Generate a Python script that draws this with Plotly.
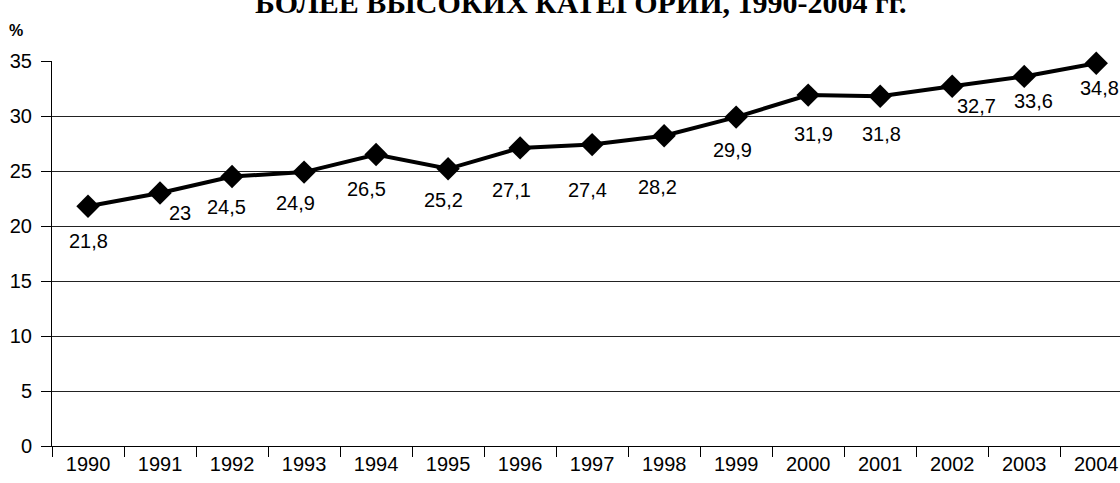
import plotly.graph_objects as go

years = ["1990", "1991", "1992", "1993", "1994", "1995", "1996", "1997",
         "1998", "1999", "2000", "2001", "2002", "2003", "2004"]
values = [21.8, 23, 24.5, 24.9, 26.5, 25.2, 27.1, 27.4, 28.2, 29.9,
          31.9, 31.8, 32.7, 33.6, 34.8]
labels = ["21,8", "23", "24,5", "24,9", "26,5", "25,2", "27,1", "27,4",
          "28,2", "29,9", "31,9", "31,8", "32,7", "33,6", "34,8"]

# label pixel offsets (style only)
dx = [0, 20, -6, -9, -10, -5, -9, -5, -7, -4, 5, 1, 24, 9, 3]
dy = [35, 20, 30, 31, 34, 31, 42, 45, 51, 33, 39, 38, 20, 25, 25]

fig = go.Figure()
fig.add_trace(go.Scatter(
    x=years, y=values, mode="lines+markers",
    line=dict(color="black", width=4),
    marker=dict(symbol="diamond", size=18, color="black"),
    hoverinfo="skip", showlegend=False, cliponaxis=False,
))

for i, (y, t, ox, oy) in enumerate(zip(values, labels, dx, dy)):
    fig.add_annotation(x=i, y=y, text=t, showarrow=False,
                       xshift=ox, yshift=-oy,
                       font=dict(family="Liberation Sans, Arial", size=20, color="black"))

fig.add_annotation(xref="paper", yref="paper", x=(580 - 52) / 1068, y=1,
                   xanchor="center", yanchor="middle", yshift=59,
                   text="<b>БОЛЕЕ ВЫСОКИХ КАТЕГОРИЙ, 1990-2004 гг.</b>",
                   showarrow=False,
                   font=dict(family="Liberation Serif, Times New Roman", size=30, color="black"))
fig.add_annotation(xref="paper", yref="paper", x=(16 - 52) / 1068, y=1,
                   xanchor="center", yanchor="middle", yshift=31,
                   text="<b>%</b>", showarrow=False,
                   font=dict(family="Liberation Sans, Arial", size=16, color="black"))

fig.update_layout(
    width=1120, height=483,
    margin=dict(l=52, r=0, t=61, b=37),
    paper_bgcolor="white", plot_bgcolor="white",
    font=dict(family="Liberation Sans, Arial", size=20, color="black"),
    xaxis=dict(type="category", range=[-0.5, 14.33], tickson="boundaries",
               ticks="outside", ticklen=10, tickcolor="black", tickwidth=1,
               showline=True, linecolor="black", linewidth=1,
               showgrid=False, zeroline=False, tickfont=dict(size=20)),
    yaxis=dict(range=[0, 35], dtick=5, ticks="outside", ticklen=10,
               tickcolor="black", tickwidth=1, ticklabelstandoff=5,
               showline=True, linecolor="black", linewidth=1,
               showgrid=True, gridcolor="#222", gridwidth=1.3,
               zeroline=False, tickfont=dict(size=20)),
)

fig.write_html("out.html", config={"displayModeBar": False},
               post_script="document.body.style.margin='0';")
